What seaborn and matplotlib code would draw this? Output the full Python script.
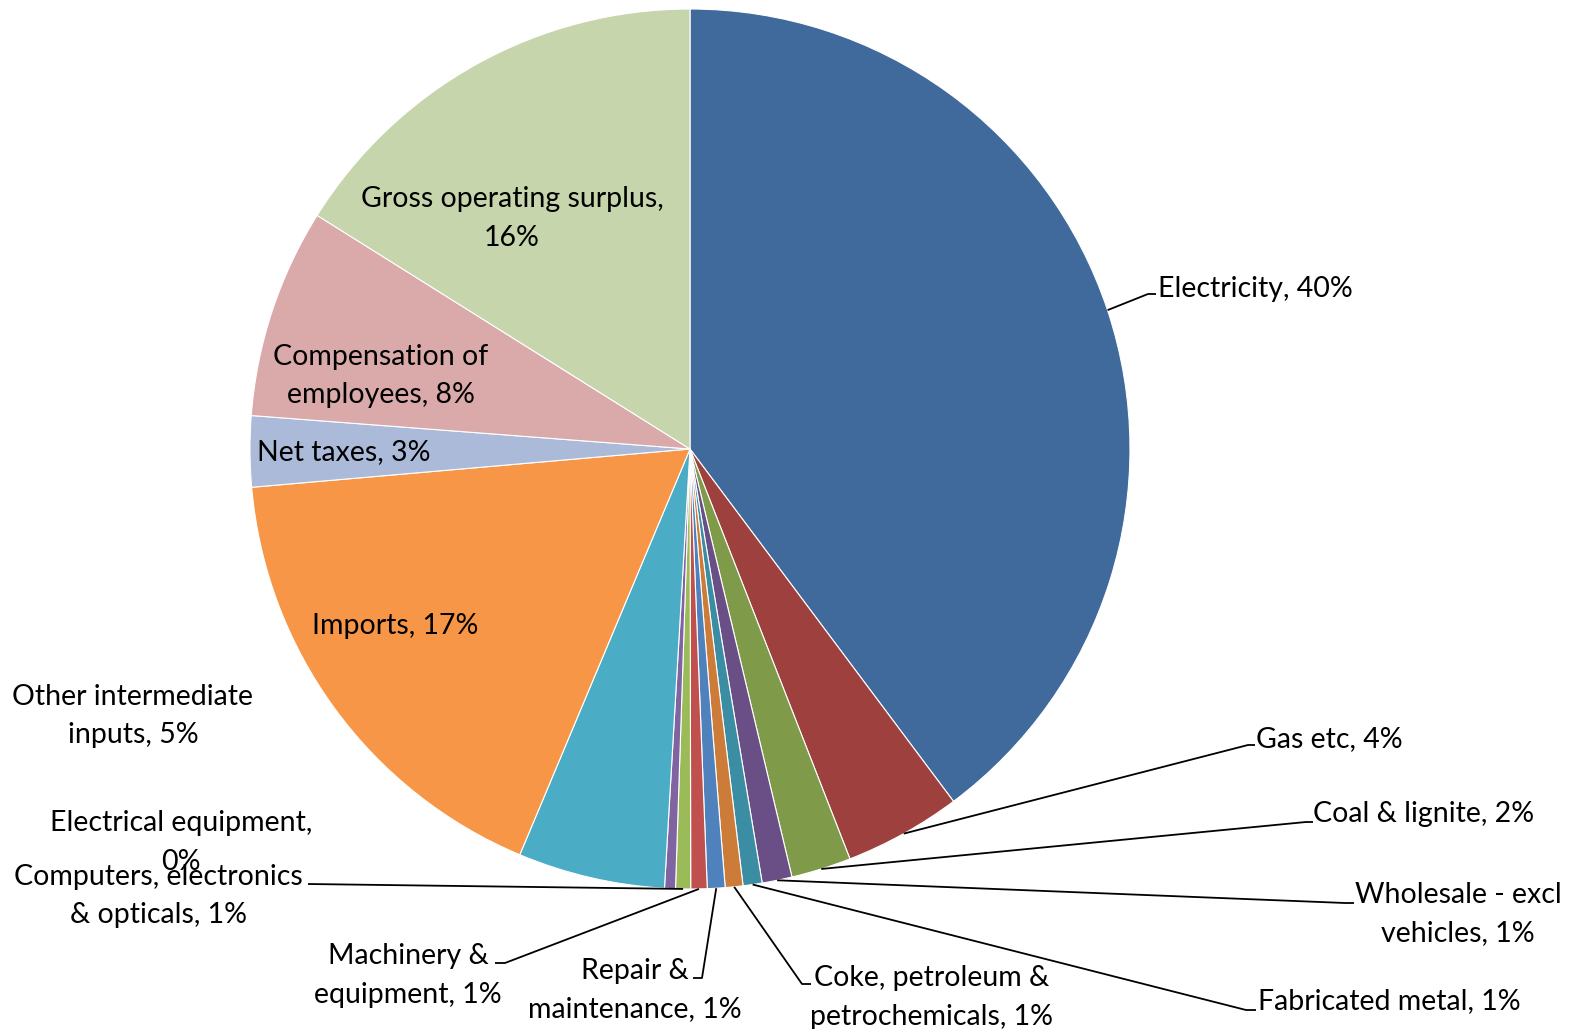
import matplotlib
matplotlib.use("Agg")
import matplotlib.pyplot as plt
import seaborn as sns
import numpy as np

sns.set_theme(style="white")
plt.rcParams["font.family"] = ["Lato", "DejaVu Sans"]

# Cost structure shares (%), clockwise from 12 o'clock
categories = [
    "Electricity", "Gas etc", "Coal & lignite", "Wholesale - excl\nvehicles",
    "Fabricated metal", "Coke, petroleum &\npetrochemicals", "Repair &\nmaintenance",
    "Machinery &\nequipment", "Computers, electronics\n& opticals",
    "Electrical equipment,\n", "Other intermediate\ninputs", "Imports", "Net taxes",
    "Compensation of\nemployees", "Gross operating surplus,\n",
]
shares = [39.8, 4.3, 2.2, 1.1, 0.7, 0.65, 0.65, 0.6, 0.55, 0.4, 5.4, 17.3, 2.6, 7.7, 16.1]
colors = [
    "#416A9C", "#9E413E", "#7F9A48", "#694F86", "#3B8DA4", "#CC7B38",
    "#4F81BD", "#C0504D", "#9BBB59", "#8064A2", "#4BACC6", "#F79646",
    "#AABAD8", "#D9AAA9", "#C6D5AB",
]

W, H = 1570, 1029
fig = plt.figure(figsize=(W / 100, H / 100), dpi=100)
ax = fig.add_axes([0, 0, 1, 1])

CX, CY, R = 690, 449, 440
wedges, _ = ax.pie(
    shares, colors=sns.color_palette(colors), startangle=-90, counterclock=True,
    center=(CX, CY), radius=R,
    wedgeprops=dict(edgecolor="white", linewidth=0.8),
)
ax.set_xlim(0, W)
ax.set_ylim(H, 0)
ax.set_aspect("equal")
ax.axis("off")


def pct(v):
    return f"{int(v + 0.5)}%"


def label_text(name, v):
    if name.endswith("\n"):
        return name + pct(v)
    return f"{name}, {pct(v)}"


FS = 20.5
LEAD = 38.5


def draw_label(text, x, y0, ha="center"):
    for i, line in enumerate(text.split("\n")):
        ax.text(x, y0 + i * LEAD, line, ha=ha, va="baseline", fontsize=FS, color="black")


def edge_point(w):
    mid = np.deg2rad((w.theta1 + w.theta2) / 2)
    return CX + R * np.cos(mid), CY + R * np.sin(mid)


# label anchor: (x, first baseline, alignment, leader elbow points or None)
layout = {
    0: (1158, 297, "left", [(1148, 294), (1156, 294)]),
    1: (1256, 747, "left", [(1248, 745), (1255, 745)]),
    2: (1313, 822, "left", [(1306, 822), (1313, 822)]),
    3: (1458, 903, "center", [(1345, 903), (1354, 903)]),
    4: (1258, 1009, "left", [(1246, 1010), (1256, 1010)]),
    5: (932, 986, "center", [(802, 984), (811, 984)]),
    6: (635, 979, "center", [(702, 978), (693, 978)]),
    7: (408, 964, "center", [(505, 963), (495, 963)]),
    8: (158, 885, "center", [(308, 884)]),
    9: (181, 831, "center", None),
    10: (133, 705, "center", None),
    11: (395, 634, "center", None),
    12: (257, 460, "left", None),
    13: (381, 365, "center", None),
    14: (512, 207, "center", None),
}

for i, (name, v) in enumerate(zip(categories, shares)):
    x, y0, ha, elbow = layout[i]
    draw_label(label_text(name, v), x, y0, ha)
    if elbow:
        pts = [edge_point(wedges[i])] + elbow
        xs, ys = zip(*pts)
        ax.plot(xs, ys, color="black", lw=1.3, solid_capstyle="butt")

fig.savefig("out.png", dpi=100, facecolor="white")
